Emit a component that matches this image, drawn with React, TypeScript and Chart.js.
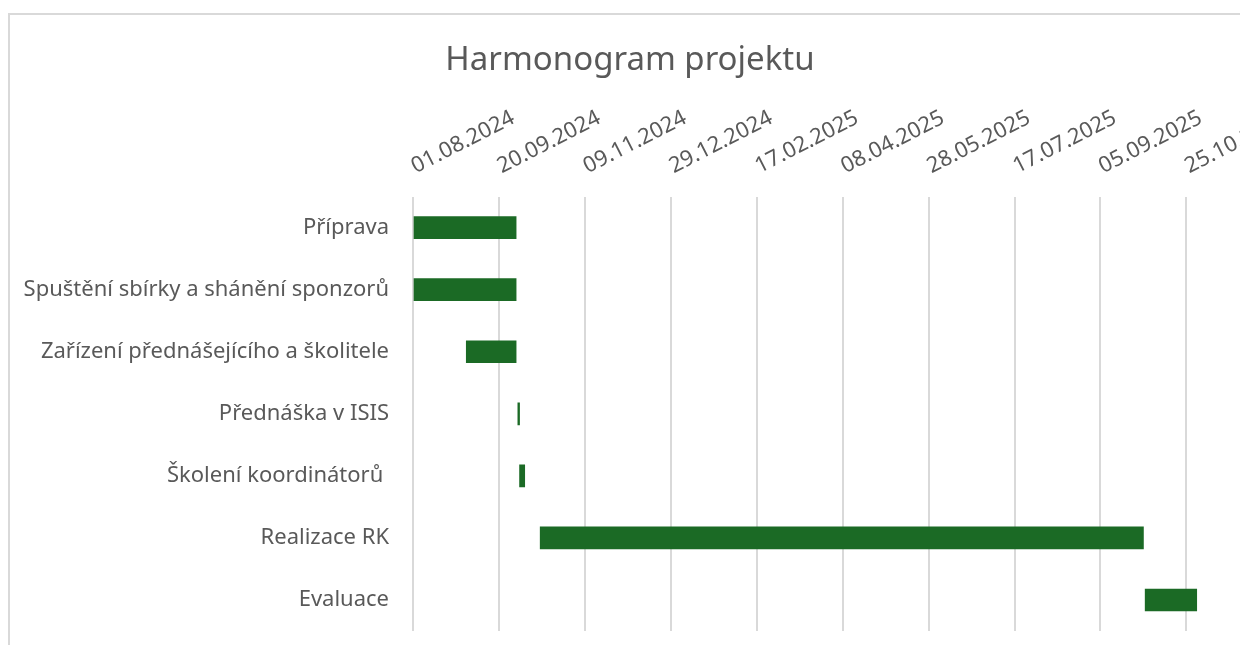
import React, { useEffect, useRef } from 'react';
import { Chart, registerables } from 'chart.js';

Chart.register(...registerables);

const tasks = [
  'Příprava',
  'Spuštění sbírky a shánění sponzorů',
  'Zařízení přednášejícího a školitele',
  'Přednáška v ISIS',
  'Školení koordinátorů ',
  'Realizace RK',
  'Evaluace',
];
const startDates = [
  '01.08.2024',
  '01.08.2024',
  '01.09.2024',
  '01.10.2024',
  '02.10.2024',
  '14.10.2024',
  '01.10.2025',
];
const durationDays = [60, 60, 29, 1, 3, 351, 30];
const axisStart = '01.08.2024';
const tickStepDays = 50;
const axisEndDays = 487;

const DAY = 86400000;
function parseDate(s: string): number {
  const [d, m, y] = s.split('.').map(Number);
  return Date.UTC(y, m - 1, d);
}
const origin = parseDate(axisStart);
function toDays(s: string): number {
  return Math.round((parseDate(s) - origin) / DAY);
}
function fmt(days: number): string {
  const dt = new Date(origin + days * DAY);
  const dd = String(dt.getUTCDate()).padStart(2, '0');
  const mm = String(dt.getUTCMonth() + 1).padStart(2, '0');
  return `${dd}.${mm}.${dt.getUTCFullYear()}`;
}

const FONT = 'Noto Sans';
const TEXT = '#595959';

export default function App() {
  const ref = useRef<HTMLCanvasElement>(null);
  useEffect(() => {
    if (!ref.current) return;
    const bars = tasks.map((_, i) => {
      const s = toDays(startDates[i]);
      return [s, s + durationDays[i]];
    });
    const chart = new Chart(ref.current, {
      type: 'bar',
      data: {
        labels: tasks,
        datasets: [
          {
            data: bars as any,
            backgroundColor: '#1b6a25',
            borderWidth: 0,
            barThickness: 22,
            borderSkipped: false,
          },
        ],
      },
      options: {
        indexAxis: 'y',
        animation: false,
        responsive: false,
        maintainAspectRatio: false,
        layout: { padding: { left: 0, right: 0, top: 0, bottom: 24 } },
        plugins: {
          legend: { display: false },
          tooltip: { enabled: false },
          title: {
            display: true,
            text: 'Harmonogram projektu',
            color: TEXT,
            font: { family: FONT, size: 33, weight: 'normal' },
            padding: { top: 26, bottom: 0 },
          },
        },
        scales: {
          x: {
            type: 'linear',
            position: 'top',
            min: 0,
            max: axisEndDays,
            grid: { color: '#d9d9d9', lineWidth: 2, drawTicks: false },
            border: { display: false },
            ticks: {
              stepSize: tickStepDays,
              autoSkip: false,
              minRotation: 27,
              maxRotation: 27,
              padding: 17,
              labelOffset: 12,
              color: TEXT,
              font: { family: FONT, size: 22 },
              callback: (v: any) => fmt(Number(v)),
            },
            afterBuildTicks: (s: any) => {
              s.ticks = s.ticks.filter((t: any) => t.value % tickStepDays === 0);
            },
            afterFit: (s: any) => {
              s.height = 116;
              s.paddingRight = 0;
              s.paddingLeft = 0;
            },
          },
          y: {
            grid: { display: false, drawTicks: false },
            border: { display: false },
            ticks: {
              color: TEXT,
              font: { family: FONT, size: 22 },
              padding: 24,
            },
            afterFit: (s: any) => {
              s.width = 403;
              s.paddingTop = 0;
              s.paddingBottom = 0;
            },
          },
        },
      } as any,
    });
    return () => chart.destroy();
  }, []);

  return (
    <div style={{ width: 1240, height: 637, overflow: 'hidden' }}>
      <div style={{ paddingTop: 5 }}>
        <div
          style={{
            borderLeft: '2px solid #d9d9d9',
            borderTop: '2px solid #d9d9d9',
            width: 1300,
            height: 700,
          }}
        >
          <canvas ref={ref} width={1240} height={640} style={{ display: 'block' }} />
        </div>
      </div>
    </div>
  );
}
